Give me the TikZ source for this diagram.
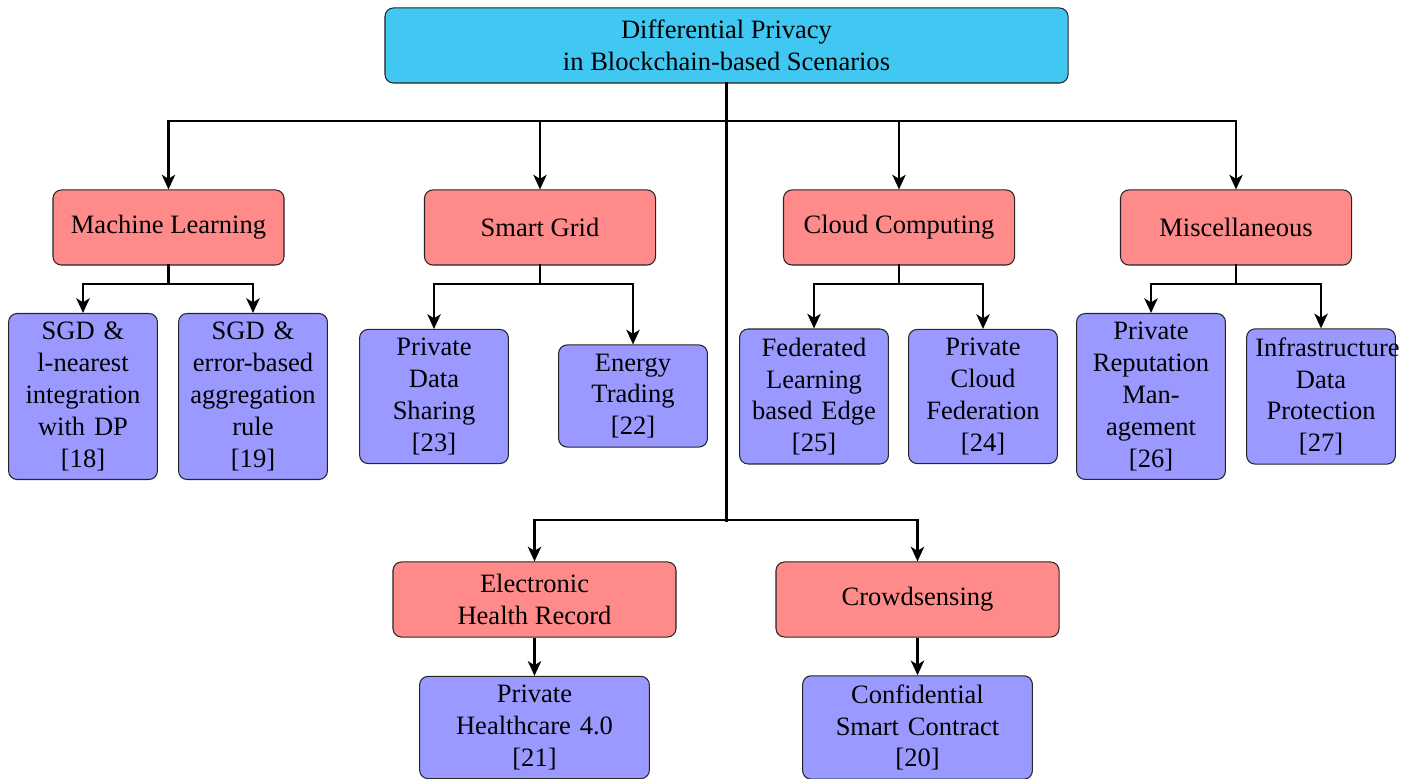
\documentclass[tikz,border=0pt]{standalone}
\usepackage{fontspec}
\setmainfont{Liberation Serif}
\usetikzlibrary{arrows.meta,calc}
\definecolor{rootc}{RGB}{64,200,243}
\definecolor{catc}{RGB}{255,138,138}
\definecolor{leafc}{RGB}{153,153,255}
\begin{document}
\begin{tikzpicture}[x=0.377pt,y=-0.377pt,
  every node/.style={font=\fontsize{10}{12}\selectfont},
  box/.style={draw=black!85,line width=0.4pt,rounded corners=3.2pt,align=center},
  rootbox/.style={box,fill=rootc,minimum width=257.5pt,minimum height=28.3pt},
  catbox/.style={box,fill=catc,minimum width=87.1pt,minimum height=28.3pt},
  widecat/.style={box,fill=catc,minimum width=106.7pt,minimum height=28.3pt},
  leaf/.style={box,fill=leafc,text width=49.5pt,inner sep=3.3pt},
  wideleaf/.style={box,fill=leafc,text width=80pt,inner sep=3.3pt},
  conn/.style={line width=1.1pt,line cap=rect},
  trunk/.style={line width=1.2pt,line cap=rect},
  arr/.style={line width=1.1pt,-{Stealth[length=5.5pt,width=5pt,inset=1.5pt]}}]
\useasboundingbox (0,0) rectangle (1414,779);

% root
\node[rootbox] (root) at (726.5,45.5) {Differential Privacy\\in Blockchain-based Scenarios};

% categories
\node[catbox] (ml) at (168.5,227.5) {Machine Learning};
\node[catbox] (sg) at (540,227.5) {Smart Grid};
\node[catbox] (cc) at (899,227.5) {Cloud Computing};
\node[catbox] (mi) at (1236,227.5) {Miscellaneous};
\node[widecat] (ehr) at (534.5,599.5) {Electronic\\Health Record};
\node[widecat] (cs) at (917.5,599.5) {Crowdsensing};

% leaves
\node[leaf] (l18) at (83,396.5) {SGD \&\\l-nearest\\integration\\with DP\\[0pt][18]};
\node[leaf] (l19) at (253,396.5) {SGD \&\\error-based\\aggregation\\rule\\[0pt][19]};
\node[leaf] (l23) at (434,396.5) {Private\\Data\\Sharing\\[0pt][23]};
\node[leaf] (l22) at (633,396) {Energy\\Trading\\[0pt][22]};
\node[leaf] (l25) at (814,396.5) {Federated\\Learning\\based Edge\\[0pt][25]};
\node[leaf] (l24) at (983,396.5) {Private\\Cloud\\Federation\\[0pt][24]};
\node[leaf] (l26) at (1151,396.5) {Private\\Reputation\\Man-\\agement\\[0pt][26]};
\node[leaf] (l27) at (1321,396.5) {Infrastructure\\Data\\Protection\\[0pt][27]};
\node[wideleaf] (l21) at (534.5,727.5) {Private\\Healthcare 4.0\\[0pt][21]};
\node[wideleaf] (l20) at (917.5,727.5) {Confidential\\Smart Contract\\[0pt][20]};

% junction coordinates
\coordinate (hub1) at (726.5,121);
\coordinate (hub2) at (726.5,520);
\coordinate (ly) at (0,284);

% trunk
\draw[trunk] (root.south) -- (hub2);
\draw[conn] (ml.north |- hub1) -- (mi.north |- hub1);
\draw[conn] (ehr.north |- hub2) -- (cs.north |- hub2);
\foreach \n in {ml,sg,cc,mi}{\draw[arr] (\n.north |- hub1) -- (\n.north);}
\foreach \n in {ehr,cs}{\draw[arr] (\n.north |- hub2) -- (\n.north);}

% category -> leaves
\foreach \p/\a/\b in {ml/l18/l19,sg/l23/l22,cc/l25/l24,mi/l26/l27}{
  \draw[conn] (\p.south) -- (\p.south |- ly);
  \draw[conn] (\a.north |- ly) -- (\b.north |- ly);
  \draw[arr] (\a.north |- ly) -- (\a.north);
  \draw[arr] (\b.north |- ly) -- (\b.north);
}
\draw[arr] (ehr.south) -- (l21.north);
\draw[arr] (cs.south) -- (l20.north);
\end{tikzpicture}
\end{document}
